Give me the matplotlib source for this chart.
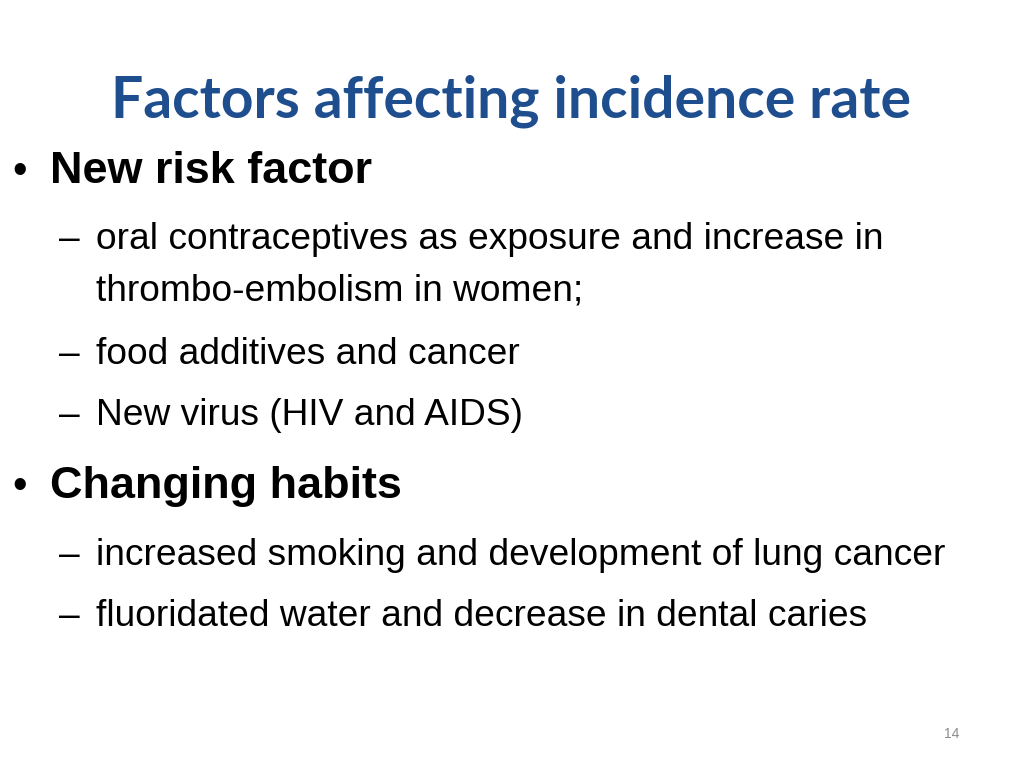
import matplotlib
matplotlib.use("Agg")
import matplotlib.pyplot as plt

W, H = 1024, 768

title = "Factors affecting incidence rate"
# (level, text, baseline y in px)
levels = [1, 2, 0, 2, 2, 1, 2, 2]
lines = [
    "New risk factor",
    "oral contraceptives as exposure and increase in",
    "thrombo-embolism in women;",
    "food additives and cancer",
    "New virus (HIV and AIDS)",
    "Changing habits",
    "increased smoking and development of lung cancer",
    "fluoridated water and decrease in dental caries",
]
baselines = [183, 249, 301, 364, 425, 498, 565, 626]
page_no = "14"

fig = plt.figure(figsize=(W / 100, H / 100), dpi=100)
fig.patch.set_facecolor("white")

def px(x, y):
    return x / W, 1 - y / H

fig.text(*px(511, 117), title, ha="center", va="baseline", fontsize=41,
         fontweight="bold", family="Lato", color="#1F4E8F")

for lvl, txt, yb in zip(levels, lines, baselines):
    if lvl == 1:
        fig.text(*px(12, yb), "•", va="baseline", fontsize=30,
                 family="Liberation Sans", color="black")
        fig.text(*px(50, yb), txt, va="baseline", fontsize=32.4,
                 fontweight="bold", family="Liberation Sans", color="black")
    else:
        if lvl == 2:
            fig.text(*px(59, yb), "–", va="baseline", fontsize=26.75,
                     family="Liberation Sans", color="black")
        fig.text(*px(96, yb), txt, va="baseline", fontsize=26.75,
                 family="Liberation Sans", color="black")

fig.text(*px(952, 738), page_no, ha="center", va="baseline", fontsize=10,
         family="Liberation Sans", color="#8C8C8C")

fig.savefig("out.png", dpi=100)
